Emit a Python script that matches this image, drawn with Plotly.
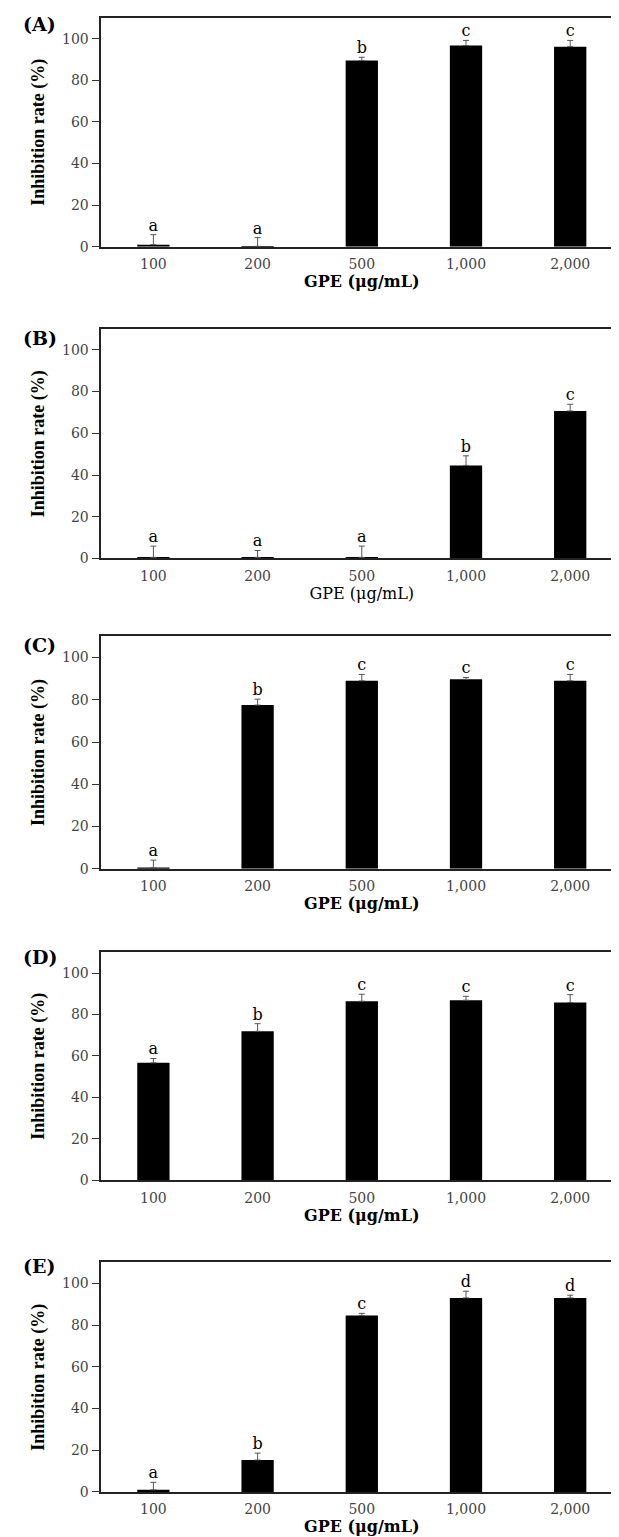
import plotly.graph_objects as go

W, H = 619, 1537

categories = ["100", "200", "500", "1,000", "2,000"]
tick_labels = ["100", "200", "500", "1,000", "2,000"]
panel_names = ["(A)", "(B)", "(C)", "(D)", "(E)"]

vals_A = [1.0, 0.2, 89.5, 96.7, 96.2]
err_A = [4.8, 4.2, 1.6, 2.5, 3.0]
let_A = ["a", "a", "b", "c", "c"]

vals_B = [0.5, 0.5, 0.5, 44.6, 70.7]
err_B = [5.4, 3.3, 5.4, 4.6, 3.2]
let_B = ["a", "a", "a", "b", "c"]

vals_C = [0.5, 77.5, 89.0, 89.7, 89.0]
err_C = [3.6, 2.8, 3.0, 0.9, 3.0]
let_C = ["a", "b", "c", "c", "c"]

vals_D = [56.7, 71.9, 86.4, 86.9, 85.8]
err_D = [2.1, 3.7, 3.4, 1.9, 3.8]
let_D = ["a", "b", "c", "c", "c"]

vals_E = [1.0, 15.3, 84.6, 93.0, 93.0]
err_E = [3.6, 3.3, 1.0, 3.2, 1.3]
let_E = ["a", "b", "c", "d", "d"]

x_title = "GPE (μg/mL)"
y_title = "Inhibition rate (%)"
y_ticks = [0, 20, 40, 60, 80, 100]

panels = [
    (vals_A, err_A, let_A, True),
    (vals_B, err_B, let_B, False),
    (vals_C, err_C, let_C, True),
    (vals_D, err_D, let_D, True),
    (vals_E, err_E, let_E, True),
]

# plot-area pixel extents (top, bottom)
extents = [(10, 240), (322.7, 553.3), (631.7, 865.3), (949.3, 1178.5), (1261, 1491.7)]
label_y = [16, 331.7, 640.7, 954, 1265]
x_left, x_right = 93.3, 614.3

fig = go.Figure()
layout = dict(
    width=W, height=H,
    margin=dict(l=0, r=0, t=0, b=0),
    paper_bgcolor="white", plot_bgcolor="white",
    showlegend=False,
    bargap=0.69,
    annotations=[],
)

for i, (vals, errs, lets, bold_title) in enumerate(panels):
    n = "" if i == 0 else str(i + 1)
    xa, ya = "x" + n, "y" + n
    fig.add_trace(go.Bar(
        x=categories, y=vals, xaxis=xa, yaxis=ya,
        marker=dict(color="black", line=dict(width=0)),
        error_y=dict(type="data", array=errs, arrayminus=[0] * len(errs),
                     symmetric=False, color="#555555", thickness=1, width=3),
    ))
    tops = [v + e for v, e in zip(vals, errs)]
    fig.add_trace(go.Scatter(
        x=categories, y=tops, xaxis=xa, yaxis=ya, mode="text",
        text=lets, textposition="top center",
        textfont=dict(family="DejaVu Serif", size=16, color="black"),
        hoverinfo="skip",
    ))
    top, bot = extents[i]
    layout["xaxis" + n] = dict(
        domain=[x_left / W, x_right / W], anchor=ya,
        type="category", categoryorder="array", categoryarray=categories,
        tickvals=categories, ticktext=tick_labels,
        range=[-0.5, 4.5],
        showline=True, mirror=True, linecolor="#222222", linewidth=1.5,
        ticks="outside", ticklen=4, tickcolor="rgba(0,0,0,0)",
        tickfont=dict(family="DejaVu Serif", size=14, color="#444444"),
        showgrid=False, zeroline=False,
        title=dict(text=x_title, standoff=2,
                   font=dict(family="DejaVu Serif", size=16, color="black",
                             weight="bold" if bold_title else "normal")),
    )
    layout["yaxis" + n] = dict(
        domain=[1 - bot / H, 1 - top / H], anchor=xa,
        range=[0, 110], tickvals=y_ticks,
        showline=True, mirror=True, linecolor="#222222", linewidth=1.5,
        ticks="outside", ticklen=8, tickcolor="#333333", tickwidth=1,
        tickfont=dict(family="DejaVu Serif", size=14, color="#444444"),
        showgrid=False, zeroline=False,
        title=dict(text=y_title, standoff=13,
                   font=dict(family="Liberation Serif", size=18, color="black",
                             weight="bold")),
    )
    layout["annotations"].append(dict(
        text=panel_names[i], xref="paper", yref="paper",
        x=13 / W, y=1 - label_y[i] / H, xanchor="left", yanchor="middle",
        showarrow=False,
        font=dict(family="DejaVu Serif", size=19, color="black", weight="bold"),
    ))

fig.update_layout(**layout)
fig.write_html("out.html")
